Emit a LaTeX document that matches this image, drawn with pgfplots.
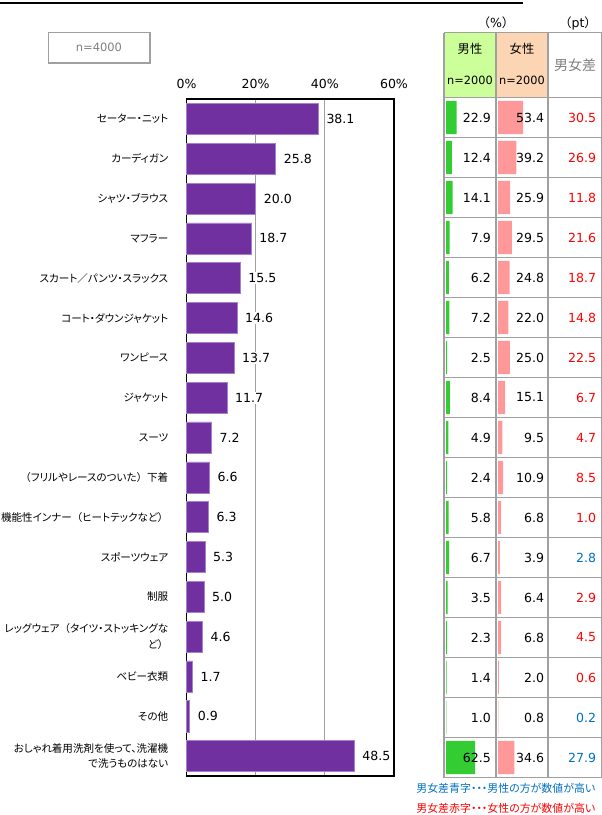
\documentclass[border=0pt]{standalone}
\usepackage{pgfplots}
\pgfplotsset{compat=1.18}
\usepackage{pgfplotstable}
\usepackage{fontspec}
\setmainfont{DejaVu Sans}
\newfontfamily\jp[RawFeature=+palt]{Noto Sans CJK JP}
\newfontfamily\jpw{Noto Sans CJK JP}
\newcommand{\lp}{{\jpw（}}
\newcommand{\rp}{{\jpw）}}
\definecolor{barpurple}{HTML}{7030A0}
\definecolor{baredge}{HTML}{A680CC}
\definecolor{mgreen}{HTML}{33CC33}
\definecolor{fpink}{HTML}{FF9999}
\definecolor{hgreen}{HTML}{CCFF99}
\definecolor{hpeach}{HTML}{FCD5B4}
\definecolor{dred}{HTML}{FF0000}
\definecolor{dblue}{HTML}{0070C0}
\definecolor{tgrid}{HTML}{A0A0A0}
\definecolor{txtgray}{HTML}{808080}
\pgfplotsset{/pgf/number format/.cd, fixed, fixed zerofill, precision=1, assume math mode=true}
\pgfplotstableread{
idx total male female diff blue
0  38.1 22.9 53.4 30.5 0
1  25.8 12.4 39.2 26.9 0
2  20.0 14.1 25.9 11.8 0
3  18.7 7.9  29.5 21.6 0
4  15.5 6.2  24.8 18.7 0
5  14.6 7.2  22.0 14.8 0
6  13.7 2.5  25.0 22.5 0
7  11.7 8.4  15.1 6.7  0
8  7.2  4.9  9.5  4.7  0
9  6.6  2.4  10.9 8.5  0
10 6.3  5.8  6.8  1.0  0
11 5.3  6.7  3.9  2.8  1
12 5.0  3.5  6.4  2.9  0
13 4.6  2.3  6.8  4.5  0
14 1.7  1.4  2.0  0.6  0
15 0.9  1.0  0.8  0.2  1
16 48.5 62.5 34.6 27.9 1
}\datatable
\begin{document}
\begin{tikzpicture}[x=0.75pt, y=-0.75pt]
\useasboundingbox (0,0) rectangle (602,815);
% top rule
\draw[line width=2pt] (0,3) -- (523,3);
% n=4000 box
\draw[tgrid, line width=1.1pt] (48.5,32.5) rectangle (150,63);
\node[text=txtgray, font=\fontsize{8.6}{10}\selectfont] at (99,47.5) {n=4000};
% table header fills
\fill[hgreen] (444,32.7) rectangle (496,97.5);
\fill[hpeach] (496,32.7) rectangle (548,97.5);
\node[font=\fontsize{9.4}{11}\selectfont] at (496,23) {\lp\%\rp};
\node[font=\fontsize{9.4}{11}\selectfont] at (578,23) {\lp pt\rp};
\node[font=\jp\fontsize{9.2}{11}\selectfont] at (470,49) {男性};
\node[font=\jp\fontsize{9.2}{11}\selectfont] at (522,49) {女性};
\node[font=\fontsize{8.5}{10}\selectfont] at (470,80.5) {n=2000};
\node[font=\fontsize{8.5}{10}\selectfont] at (522,80.5) {n=2000};
\node[text=txtgray, font=\jp\fontsize{10.5}{12}\selectfont] at (575,65) {男女差};

% main chart
\begin{axis}[
  at={(139.875pt,-74.25pt)}, anchor=north west,
  scale only axis, width=155.6pt, height=507.75pt,
  xmin=0, xmax=60, ymin=-0.5, ymax=16.5, y dir=reverse,
  xtick={0,20,40,60}, xticklabels={0\%,20\%,40\%,60\%},
  xticklabel pos=upper,
  xticklabel style={font=\fontsize{9.4}{11}\selectfont, yshift=4pt},
  xmajorgrids, grid style={draw=tgrid, line width=0.8pt},
  major tick length=0pt,
  ytick={0,...,16},
  yticklabels={セーター・ニット,カーディガン,シャツ・ブラウス,マフラー,{スカート{\jpw／}パンツ・スラックス},コート・ダウンジャケット,ワンピース,ジャケット,スーツ,{\lp フリルやレースのついた\rp 下着},{機能性インナー\lp ヒートテックなど\rp},スポーツウェア,制服,{レッグウェア\lp タイツ・ストッキングな\\ど\rp},ベビー衣類,その他,{おしゃれ着用洗剤を使って、洗濯機\\で洗うものはない}},
  yticklabel style={font=\jp\fontsize{7.9}{11.5}\selectfont, align=right, inner sep=0pt, xshift=-13.5pt},
  axis line style={line width=1.1pt, black},
  clip=false,
]
\addplot[xbar, bar width=0.78, fill=barpurple, draw=baredge, line width=0.4pt,
  nodes near coords, point meta=x,
  every node near coord/.append style={anchor=west, xshift=5pt, fill=white, inner sep=1pt, text=black, font=\fontsize{9.4}{11}\selectfont}]
  table[x=total, y=idx]{\datatable};
\end{axis}

% male column
\begin{axis}[at={(334.5pt,-73.125pt)}, anchor=north west, scale only axis, width=34.875pt, height=510pt,
  xmin=0, xmax=100, ymin=-0.5, ymax=16.5, y dir=reverse, hide axis, clip=false]
\addplot[xbar, bar width=0.83, fill=mgreen, draw=none] table[x=male, y=idx]{\datatable};
\addplot[draw=none, mark=none, nodes near coords, point meta=\thisrow{male},
  every node near coord/.append style={anchor=east, inner sep=0pt, text=black, font=\fontsize{9.4}{11}\selectfont}]
  table[x expr=97, y=idx]{\datatable};
\end{axis}

% female column
\begin{axis}[at={(373.5pt,-73.125pt)}, anchor=north west, scale only axis, width=35.25pt, height=510pt,
  xmin=0, xmax=100, ymin=-0.5, ymax=16.5, y dir=reverse, hide axis, clip=false]
\addplot[xbar, bar width=0.83, fill=fpink, draw=none] table[x=female, y=idx]{\datatable};
\addplot[draw=none, mark=none, nodes near coords, point meta=\thisrow{female},
  every node near coord/.append style={anchor=east, inner sep=0pt, text=black, font=\fontsize{9.4}{11}\selectfont}]
  table[x expr=98.5, y=idx]{\datatable};
\end{axis}

% difference column
\begin{axis}[at={(411pt,-73.125pt)}, anchor=north west, scale only axis, width=40.5pt, height=510pt,
  xmin=0, xmax=100, ymin=-0.5, ymax=16.5, y dir=reverse, hide axis, clip=false]
\addplot[draw=none, mark=none, point meta=\thisrow{diff},
  visualization depends on={\thisrow{blue} \as \isblue},
  nodes near coords={\ifdim\isblue pt>0.5pt\relax\color{dblue}\else\color{dred}\fi\pgfmathprintnumber{\pgfplotspointmeta}},
  every node near coord/.append style={anchor=east, inner sep=0pt, font=\fontsize{9.4}{11}\selectfont}]
  table[x expr=89.5, y=idx]{\datatable};
\end{axis}

% table grid
\foreach \xx in {444,496,548,601.5} \draw[tgrid, line width=1.1pt] (\xx,32.7) -- (\xx,777.5);
\draw[tgrid, line width=1.1pt] (444,32.7) -- (601.5,32.7);
\foreach \k in {0,...,17} \draw[tgrid, line width=1.1pt] (444,97.5+40*\k) -- (601.5,97.5+40*\k);

% notes
\node[anchor=east, text=dblue, font=\jp\fontsize{8.2}{10}\selectfont] at (600,788) {男女差青字・・・男性の方が数値が高い};
\node[anchor=east, text=dred, font=\jp\fontsize{8.2}{10}\selectfont] at (600,808) {男女差赤字・・・女性の方が数値が高い};
\end{tikzpicture}
\end{document}
